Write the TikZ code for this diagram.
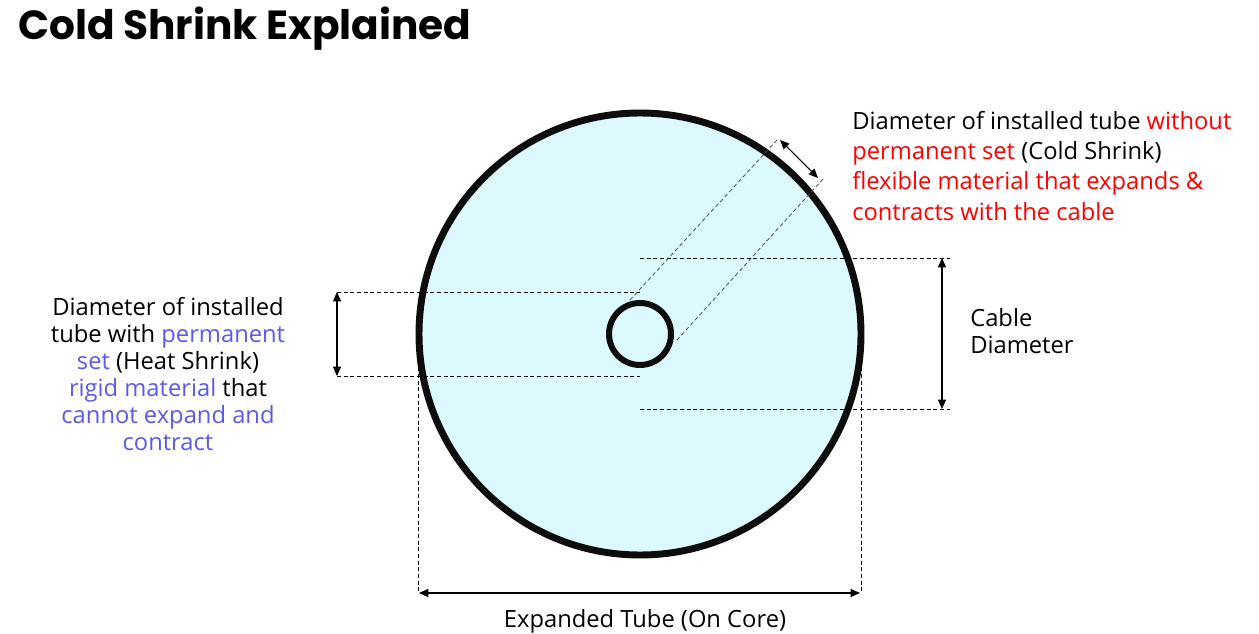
\documentclass[tikz,border=0pt]{standalone}
\usepackage{fontspec}
\setmainfont{Open Sans}
\newfontfamily\titlefont{Poppins}
\usetikzlibrary{arrows.meta}
\definecolor{tubefill}{HTML}{DCF9FD}
\definecolor{redtxt}{HTML}{FF0000}
\definecolor{bluetxt}{HTML}{5A5AE6}
\tikzset{
    dim/.style={dashed, line width=0.6pt, dash pattern=on 3pt off 2pt},
    dimarrow/.style={{Triangle[length=7pt,width=6pt]}-{Triangle[length=7pt,width=6pt]}, line width=0.8pt},
    txt/.style={font=\fontsize{17.8}{20.3}\selectfont, inner sep=0pt},
}
\begin{document}
\begin{tikzpicture}[x=0.75pt, y=-0.75pt]
    \useasboundingbox (0,0) rectangle (1259,634);
    % title
    \node[anchor=west, font=\titlefont\fontsize{30.5}{32}\selectfont\bfseries, inner sep=0pt] (title) at (18,29) {Cold Shrink Explained};
    % tubes
    \filldraw[fill=tubefill, line width=5.2pt, draw=black!95] (640,334) circle (221);
    \draw[line width=4.5pt, draw=black!95] (640,334) circle (31);
    \coordinate (centre) at (640,334);
    % heat shrink dimension
    \draw[dim] (337,292) -- (640,292);
    \draw[dim] (337,376) -- (640,376);
    \draw[dimarrow] (337,292) -- (337,376);
    % cable dimension
    \draw[dim] (640,258) -- (950,258);
    \draw[dim] (640,409) -- (950,409);
    \draw[dimarrow] (942,258) -- (942,409);
    % expanded tube dimension
    \draw[dim] (418,334) -- (418,593);
    \draw[dim] (861,334) -- (861,593);
    \draw[dimarrow] (419,593) -- (860,593);
    % cold shrink dimension
    \draw[dim, draw=black!70] (630,300) -- (777,140);
    \draw[dim, draw=black!70] (677,340) -- (823,179);
    \draw[dimarrow] (780,140) -- (818,178);
    % labels
    \node[txt, font=\fontsize{17.8}{22.7}\selectfont, anchor=north west, align=left] (coldlbl) at (852,111) {Diameter of installed tube \textcolor{redtxt}{without}\\
        \textcolor{redtxt}{permanent set} (Cold Shrink)\\
        \textcolor{redtxt}{flexible material that expands \&}\\
        \textcolor{redtxt}{contracts with the cable}};
    \node[txt, anchor=north, align=center] (heatlbl) at (168,297) {Diameter of installed\\
        tube with \textcolor{bluetxt}{permanent}\\
        \textcolor{bluetxt}{set} (Heat Shrink)\\
        \textcolor{bluetxt}{rigid material} that\\
        \textcolor{bluetxt}{cannot expand and}\\
        \textcolor{bluetxt}{contract}};
    \node[txt, anchor=north west, align=left] (cablelbl) at (970,308) {Cable\\Diameter};
    \node[txt, anchor=north] (expandlbl) at (645,609) {Expanded Tube (On Core)};
\end{tikzpicture}
\end{document}
